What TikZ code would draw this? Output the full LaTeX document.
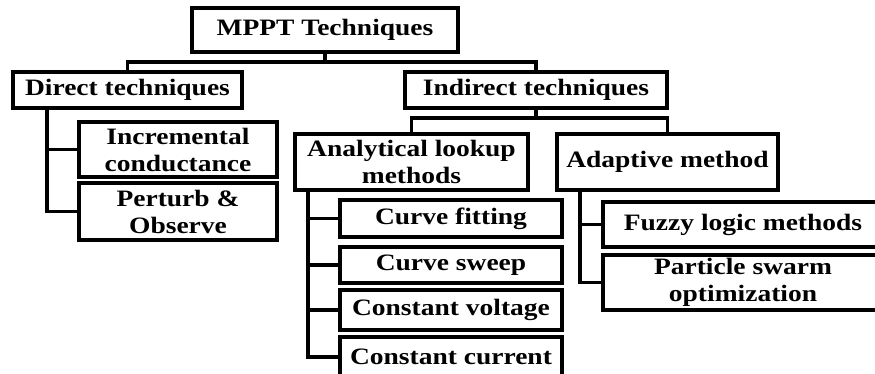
\documentclass[tikz,border=0pt]{standalone}
\usepackage{fontspec}
\setmainfont{Liberation Serif}[FakeStretch=1.17]
\begin{document}
\begin{tikzpicture}[x=1pt,y=-1pt,
  box/.style={draw=black,line width=3.2pt,fill=white,inner sep=0pt,align=center,
    font=\bfseries\fontsize{23.5}{27}\selectfont,text=black},
  link/.style={draw=black,line width=3.2pt}]
\useasboundingbox (0,0) rectangle (875,374);
\clip (0,0) rectangle (875,374);
\fill[white] (0,0) rectangle (875,374);
% nodes
\node[box,minimum width=266pt,minimum height=44pt] (root) at (325,30) {MPPT Techniques};
\node[box,minimum width=229pt,minimum height=36pt] (direct) at (127.5,90) {Direct techniques};
\node[box,minimum width=262pt,minimum height=36pt] (indirect) at (536,90) {Indirect techniques};
\node[box,minimum width=233pt,minimum height=56pt] (analytic) at (411.5,162) {Analytical lookup\\methods};
\node[box,minimum width=221pt,minimum height=56pt] (adaptive) at (667.5,162) {Adaptive method};
\node[box,minimum width=198pt,minimum height=55pt] (incr) at (178,149.5) {Incremental\\conductance};
\node[box,minimum width=198pt,minimum height=57pt] (perturb) at (178,211.5) {Perturb \&\\Observe};
\node[box,minimum width=222pt,minimum height=37pt] (cfit) at (451,218.5) {Curve fitting};
\node[box,minimum width=222pt,minimum height=36pt] (csweep) at (451,265) {Curve sweep};
\node[box,minimum width=222pt,minimum height=40pt] (cvolt) at (451,310) {Constant voltage};
\node[box,minimum width=222pt,minimum height=40pt] (ccur) at (451,357) {Constant current};
\node[box,minimum width=280pt,minimum height=45pt] (fuzzy) at (743,224.5) {Fuzzy logic methods};
\node[box,minimum width=280pt,minimum height=55pt] (particle) at (743,282.5) {Particle swarm\\optimization};
% junctions
\coordinate (j1) at (325,62);
\coordinate (j2) at (536,118);
\coordinate (t1) at (47,108);
\coordinate (t2) at (308,190);
\coordinate (t3) at (580,190);
% connectors
\draw[link] (root.south) -- (j1);
\draw[link] (direct.north) |- (j1) -| (indirect.north);
\draw[link] (indirect.south) -- (j2);
\draw[link] (analytic.north) |- (j2) -| (adaptive.north);
\draw[link] (t1) |- (perturb.west);
\draw[link] (t1 |- incr.west) -- (incr.west);
\draw[link] (t2) |- (ccur.west);
\draw[link] (t2 |- cfit.west) -- (cfit.west);
\draw[link] (t2 |- csweep.west) -- (csweep.west);
\draw[link] (t2 |- cvolt.west) -- (cvolt.west);
\draw[link] (t3) |- (particle.west);
\draw[link] (t3 |- fuzzy.west) -- (fuzzy.west);
\end{tikzpicture}
\end{document}
